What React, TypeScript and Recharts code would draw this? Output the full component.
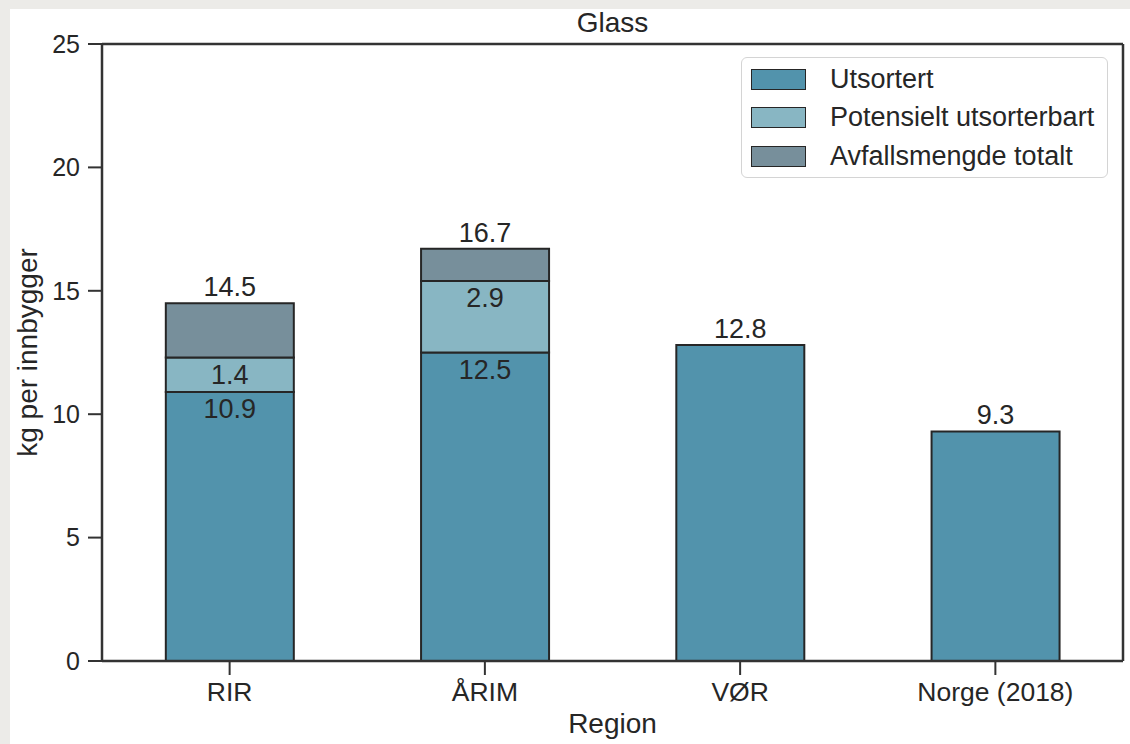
import { BarChart, Bar, XAxis, YAxis, Legend, LabelList } from "recharts";

const regions = ["RIR", "ÅRIM", "VØR", "Norge (2018)"];
const utsortert = [10.9, 12.5, 12.8, 9.3];
const potensielt: (number | null)[] = [1.4, 2.9, null, null];
const totalt: (number | null)[] = [14.5, 16.7, null, null];
const yTicks = [0, 5, 10, 15, 20, 25];

const INK = "#262626";
const FRAME = "#333333";
const C_UTS = "#5293ac";
const C_POT = "#88b6c3";
const C_TOT = "#778f9b";

const legendItems = [
  { name: "Utsortert", color: C_UTS },
  { name: "Potensielt utsorterbart", color: C_POT },
  { name: "Avfallsmengde totalt", color: C_TOT },
];

// stack segments: utsortert, potensielt on top, then the rest up to total
const data = regions.map((region, i) => ({
  region,
  utsortert: utsortert[i],
  potensielt: potensielt[i] ?? undefined,
  rest:
    totalt[i] != null
      ? Math.round((totalt[i]! - utsortert[i] - (potensielt[i] ?? 0)) * 100) / 100
      : undefined,
}));

const font = "'Liberation Sans', Arial, sans-serif";

function box(props: any) {
  const vb = props.viewBox ?? props;
  return { x: Number(vb.x), y: Number(vb.y), w: Number(vb.width) };
}

function labelAbove(text: string, props: any) {
  const { x, y, w } = box(props);
  return (
    <text x={x + w / 2} y={y - 7} textAnchor="middle" fontSize={27} fill={INK} fontFamily={font}>
      {text}
    </text>
  );
}

function labelInside(text: string, props: any) {
  const { x, y, w } = box(props);
  return (
    <text x={x + w / 2} y={y + 7} dy="0.71em" textAnchor="middle" fontSize={27} fill={INK} fontFamily={font}>
      {text}
    </text>
  );
}

const utsLabel = (props: any) => {
  const i = props.index;
  const v = utsortert[i];
  if (v == null) return null;
  return potensielt[i] != null ? labelInside(v.toFixed(1), props) : labelAbove(v.toFixed(1), props);
};

const potLabel = (props: any) => {
  const v = potensielt[props.index];
  if (v == null) return null;
  return labelInside(v.toFixed(1), props);
};

const totLabel = (props: any) => {
  const v = totalt[props.index];
  if (v == null) return null;
  return labelAbove(v.toFixed(1), props);
};

function LegendBox() {
  return (
    <div
      style={{
        position: "relative",
        width: 365,
        height: 119,
        border: "1.5px solid #d4d4d4",
        borderRadius: 6,
        background: "#fff",
        fontFamily: font,
      }}
    >
      {legendItems.map((it, i) => (
        <div key={it.name} style={{ position: "absolute", left: 9, top: 10 + i * 38.5, height: 22, display: "flex", alignItems: "center" }}>
          <div style={{ width: 53, height: 19, background: it.color, border: `1.5px solid ${INK}` }} />
          <span style={{ marginLeft: 24, fontSize: 27, color: INK, whiteSpace: "nowrap" }}>{it.name}</span>
        </div>
      ))}
    </div>
  );
}

export default function App() {
  return (
    <div style={{ position: "fixed", left: 0, top: 0, width: 1130, height: 744, background: "#ecebe8" }}>
      <div style={{ position: "absolute", left: 10, top: 9, right: 0, bottom: 0, background: "#fff" }} />
      <div style={{ position: "absolute", left: 0, top: 0 }}>
        <BarChart
          width={1130}
          height={744}
          data={data}
          margin={{ top: 43, right: 6, bottom: 33, left: 22 }}
          barCategoryGap="25%"
        >
          <XAxis
            dataKey="region"
            height={50}
            tickSize={14}
            tickMargin={7}
            tick={{ fontSize: 26.5, fill: INK, fontFamily: font }}
            tickLine={{ stroke: FRAME, strokeWidth: 2 }}
            axisLine={{ stroke: FRAME, strokeWidth: 2.5 }}
            label={{ value: "Region", position: "bottom", offset: 2, fontSize: 28, fill: INK, fontFamily: font }}
          />
          <XAxis
            xAxisId="top"
            dataKey="region"
            orientation="top"
            height={1}
            tick={false}
            tickLine={false}
            axisLine={{ stroke: FRAME, strokeWidth: 2.5 }}
            label={{ value: "Glass", position: "top", offset: 11, fontSize: 28, fill: INK, fontFamily: font }}
          />
          <YAxis
            width={80}
            domain={[0, 25]}
            ticks={yTicks}
            allowDataOverflow
            tickSize={14}
            tickMargin={8}
            tick={{ fontSize: 25, fill: INK, fontFamily: font }}
            tickLine={{ stroke: FRAME, strokeWidth: 2 }}
            axisLine={{ stroke: FRAME, strokeWidth: 2.5 }}
            label={{
              value: "kg per innbygger",
              angle: -90,
              position: "insideLeft",
              offset: 5,
              fontSize: 28,
              fill: INK,
              fontFamily: font,
              style: { textAnchor: "middle" },
            }}
          />
          <YAxis
            yAxisId="right"
            orientation="right"
            width={1}
            domain={[0, 25]}
            tick={false}
            tickLine={false}
            axisLine={{ stroke: FRAME, strokeWidth: 2.5 }}
          />
          <Legend
            layout="vertical"
            align="center"
            verticalAlign="middle"
            content={() => <LegendBox />}
            wrapperStyle={{ position: "absolute", left: 741, top: 57, width: 370, height: 125 }}
          />
          <Bar dataKey="utsortert" name="Utsortert" stackId="a" fill={C_UTS} stroke={INK} strokeWidth={2} isAnimationActive={false}>
            <LabelList dataKey="utsortert" content={utsLabel} />
          </Bar>
          <Bar dataKey="potensielt" name="Potensielt utsorterbart" stackId="a" fill={C_POT} stroke={INK} strokeWidth={2} isAnimationActive={false}>
            <LabelList dataKey="potensielt" content={potLabel} />
          </Bar>
          <Bar dataKey="rest" name="Avfallsmengde totalt" stackId="a" fill={C_TOT} stroke={INK} strokeWidth={2} isAnimationActive={false}>
            <LabelList dataKey="rest" content={totLabel} />
          </Bar>
        </BarChart>
      </div>
    </div>
  );
}
